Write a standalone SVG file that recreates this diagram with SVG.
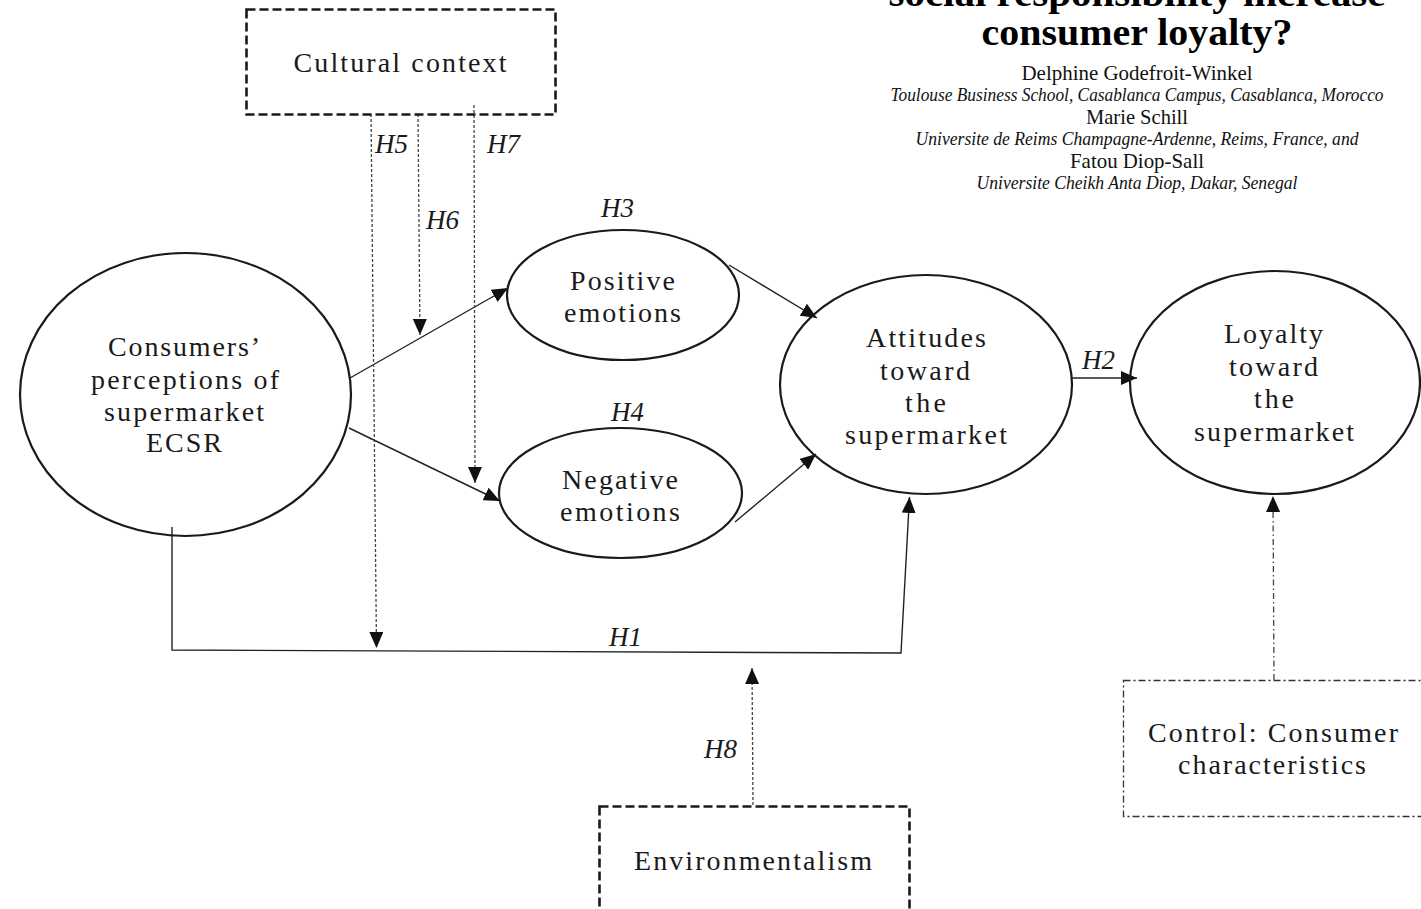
<svg xmlns="http://www.w3.org/2000/svg" width="1421" height="909" viewBox="0 0 1421 909">
<style>
.lbl{font-family:"Liberation Serif","Times New Roman",serif;font-size:28px;fill:#1a1a1a;text-anchor:middle}
.h{font-family:"Liberation Serif","Times New Roman",serif;font-style:italic;font-size:27px;fill:#1a1a1a}
.title{font-family:"Liberation Serif","Times New Roman",serif;font-weight:bold;font-size:38px;fill:#000;text-anchor:middle}
.auth{font-family:"Liberation Serif","Times New Roman",serif;font-size:21px;fill:#111;text-anchor:middle}
.aff{font-family:"Liberation Serif","Times New Roman",serif;font-style:italic;font-size:18px;fill:#111;text-anchor:middle}
.node{fill:none;stroke:#1a1a1a;stroke-width:2.2}
.dbox{fill:none;stroke:#1a1a1a;stroke-width:2.6;stroke-dasharray:9 4}
.ddbox{fill:none;stroke:#333;stroke-width:1.3;stroke-dasharray:7 3 2 3}
.solid{fill:none;stroke:#222;stroke-width:1.4}
.mod{fill:none;stroke:#444;stroke-width:1.3;stroke-dasharray:3 2}
.ctl{fill:none;stroke:#444;stroke-width:1.3;stroke-dasharray:6 3 1.5 3}
</style>
<defs>
<marker id="arr" markerUnits="userSpaceOnUse" markerWidth="16" markerHeight="14" viewBox="0 0 16 14" refX="16" refY="7" orient="auto">
<path d="M0,0 L16,7 L0,14 z" fill="#111"/>
</marker>
</defs>

<g id="title">
<text class="title" x="1137" y="6" textLength="497" lengthAdjust="spacingAndGlyphs">social responsibility increase</text>
<text class="title" x="1137" y="45" textLength="311" lengthAdjust="spacingAndGlyphs">consumer loyalty?</text>
<text class="auth" x="1137" y="80" textLength="231" lengthAdjust="spacingAndGlyphs">Delphine Godefroit-Winkel</text>
<text class="aff" x="1137" y="101" textLength="493" lengthAdjust="spacingAndGlyphs">Toulouse Business School, Casablanca Campus, Casablanca, Morocco</text>
<text class="auth" x="1137" y="124" textLength="102" lengthAdjust="spacingAndGlyphs">Marie Schill</text>
<text class="aff" x="1137" y="145" textLength="443" lengthAdjust="spacingAndGlyphs">Universite de Reims Champagne-Ardenne, Reims, France, and</text>
<text class="auth" x="1137" y="168" textLength="134" lengthAdjust="spacingAndGlyphs">Fatou Diop-Sall</text>
<text class="aff" x="1137" y="189" textLength="321" lengthAdjust="spacingAndGlyphs">Universite Cheikh Anta Diop, Dakar, Senegal</text>
</g>

<g id="connectors">
<polyline class="solid" points="172,527 172,650 901,653 909.5,497" marker-end="url(#arr)"/>
<line class="solid" x1="350" y1="378" x2="508" y2="288" marker-end="url(#arr)"/>
<line class="solid" x1="349" y1="428" x2="500" y2="501" marker-end="url(#arr)"/>
<line class="solid" x1="729" y1="265" x2="817" y2="318" marker-end="url(#arr)"/>
<line class="solid" x1="735" y1="522" x2="816" y2="454" marker-end="url(#arr)"/>
<line class="solid" x1="1072" y1="378" x2="1137" y2="378" marker-end="url(#arr)"/>
<line class="mod" x1="371" y1="114" x2="376.5" y2="648" marker-end="url(#arr)"/>
<line class="mod" x1="418" y1="114" x2="420" y2="335" marker-end="url(#arr)"/>
<line class="mod" x1="474" y1="105" x2="475" y2="483" marker-end="url(#arr)"/>
<line class="mod" x1="753" y1="805" x2="752" y2="668" marker-end="url(#arr)"/>
<line class="ctl" x1="1274" y1="680" x2="1273" y2="496" marker-end="url(#arr)"/>
<text class="h" x="375" y="153">H5</text>
<text class="h" x="426" y="229">H6</text>
<text class="h" x="487" y="153">H7</text>
<text class="h" x="601" y="217">H3</text>
<text class="h" x="611" y="421">H4</text>
<text class="h" x="1082" y="369">H2</text>
<text class="h" x="609" y="646">H1</text>
<text class="h" x="704" y="758">H8</text>
</g>

<g id="cultural">
<rect class="dbox" x="246.5" y="9.5" width="309" height="105"/>
<text class="lbl" x="400" y="72" textLength="213" lengthAdjust="spacing">Cultural context</text>
</g>

<g id="ecsr">
<ellipse class="node" cx="185.5" cy="394.5" rx="165.5" ry="141.5"/>
<text class="lbl" x="184" y="356" textLength="152" lengthAdjust="spacing">Consumers’</text>
<text class="lbl" x="185" y="389" textLength="188" lengthAdjust="spacing">perceptions of</text>
<text class="lbl" x="184" y="421" textLength="160" lengthAdjust="spacing">supermarket</text>
<text class="lbl" x="184" y="452" textLength="76" lengthAdjust="spacing">ECSR</text>
</g>

<g id="positive">
<ellipse class="node" cx="623" cy="295" rx="116" ry="65"/>
<text class="lbl" x="622.5" y="290" textLength="105" lengthAdjust="spacing">Positive</text>
<text class="lbl" x="622.5" y="322" textLength="117" lengthAdjust="spacing">emotions</text>
</g>

<g id="negative">
<ellipse class="node" cx="620.5" cy="493" rx="121.5" ry="65"/>
<text class="lbl" x="620" y="489" textLength="116" lengthAdjust="spacing">Negative</text>
<text class="lbl" x="620" y="521" textLength="120" lengthAdjust="spacing">emotions</text>
</g>

<g id="attitudes">
<ellipse class="node" cx="926" cy="384.5" rx="146" ry="109.5"/>
<text class="lbl" x="926" y="347" textLength="120" lengthAdjust="spacing">Attitudes</text>
<text class="lbl" x="925" y="380" textLength="90" lengthAdjust="spacing">toward</text>
<text class="lbl" x="925.5" y="412" textLength="41" lengthAdjust="spacing">the</text>
<text class="lbl" x="926" y="444" textLength="162" lengthAdjust="spacing">supermarket</text>
</g>

<g id="loyalty">
<ellipse class="node" cx="1275" cy="382.5" rx="145" ry="111.5"/>
<text class="lbl" x="1273.5" y="343" textLength="99" lengthAdjust="spacing">Loyalty</text>
<text class="lbl" x="1273.5" y="376" textLength="89" lengthAdjust="spacing">toward</text>
<text class="lbl" x="1274" y="408" textLength="40" lengthAdjust="spacing">the</text>
<text class="lbl" x="1274" y="441" textLength="160" lengthAdjust="spacing">supermarket</text>
</g>

<g id="environmentalism">
<rect class="dbox" x="599.5" y="806.5" width="310" height="130"/>
<text class="lbl" x="753" y="870" textLength="238" lengthAdjust="spacing">Environmentalism</text>
</g>

<g id="control">
<rect class="ddbox" x="1123.5" y="680.5" width="330" height="136"/>
<text class="lbl" x="1273" y="742" textLength="250" lengthAdjust="spacing">Control: Consumer</text>
<text class="lbl" x="1272" y="774" textLength="188" lengthAdjust="spacing">characteristics</text>
</g>
</svg>
